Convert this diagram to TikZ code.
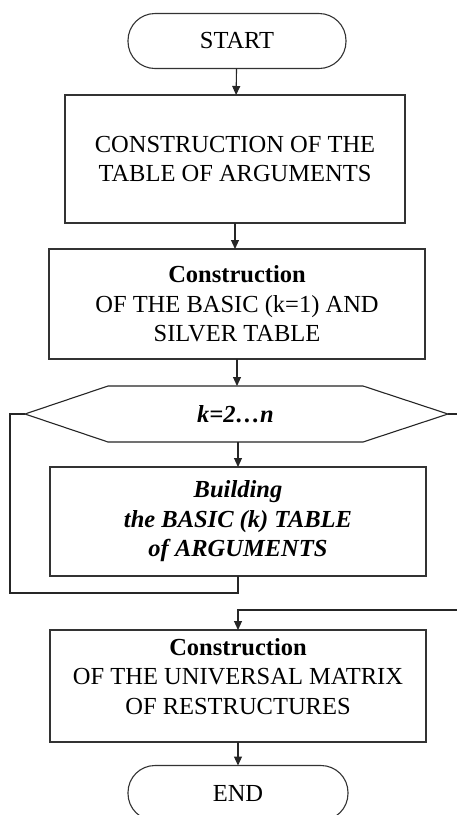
\documentclass[tikz,border=0pt]{standalone}
\usepackage{fontspec}
\setmainfont{Liberation Serif}
\usetikzlibrary{arrows.meta,calc}
\begin{document}
\begin{tikzpicture}[x=1pt,y=-1pt,
  line width=1.1pt,
  every node/.style={inner sep=0pt, outer sep=0pt, font=\fontsize{24.5}{29.5}\selectfont, align=center},
  term/.style={draw=black!80, rounded corners=27pt, minimum width=218pt, minimum height=55pt},
  procbox/.style={draw=black!80, minimum height=#1},
  arr/.style={draw=black!85, -{Triangle[length=9pt,width=8pt]}},
  ln/.style={draw=black!85}
]
\useasboundingbox (0,0) rectangle (457,815);
\fill[white] (0,0) rectangle (457,815);

\node[term] (start) at (237,41) {START};
\node[procbox=128pt, minimum width=340pt] (b1) at (235,159) {CONSTRUCTION OF THE\\TABLE OF ARGUMENTS};
\node[procbox=110pt, minimum width=376pt] (b2) at (237,304) {\textbf{Construction}\\OF THE BASIC (k=1) AND\\SILVER TABLE};
\node[minimum width=255pt, minimum height=56pt] (hex) at (235.5,414) {\textbf{\textit{k=2…n}}};
\coordinate (hexL) at (25,414);
\coordinate (hexR) at (448,414);
\draw[ln] (hex.north west) -- (hex.north east) -- (hexR) -- (hex.south east) -- (hex.south west) -- (hexL) -- cycle;
\node[procbox=109pt, minimum width=376pt, font=\fontsize{24.5}{29.5}\selectfont\bfseries\itshape] (b3) at (238,521.5) {Building\\the BASIC (k) TABLE\\of ARGUMENTS};
\node[procbox=112pt, minimum width=376pt] (b4) at (238,686) {\textbf{Construction}\\OF THE UNIVERSAL MATRIX\\OF RESTRUCTURES\\[-10pt]\mbox{}};
\node[term, minimum width=220pt] (end) at (238,793) {END};

\coordinate (loopL) at (10,593);
\coordinate (loopR) at (475,610);

\draw[arr] (start) -- (b1);
\draw[arr] (b1) -- (b2.north -| b1.south);
\draw[arr] (b2.south) -- (hex.north -| b2.south);
\draw[arr] (hex.south -| b3.north) -- (b3.north);
\draw[ln] (b3.south) -- (b3.south |- loopL) -- (loopL) |- (hexL);
\draw[ln] (hexR) -- (hexR -| loopR) -- (loopR);
\draw[arr] (loopR) -| (b4.north);
\draw[arr] (b4) -- (end);
\end{tikzpicture}
\end{document}
